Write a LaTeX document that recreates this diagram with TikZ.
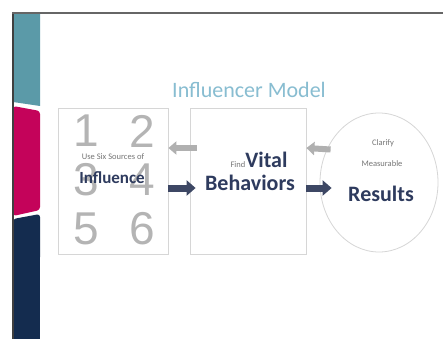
\documentclass[tikz,border=0pt]{standalone}
\usepackage{fontspec}
\setmainfont{Carlito}
\newfontfamily\digitfont{Liberation Sans}
\usetikzlibrary{arrows.meta,shapes.geometric}
\definecolor{barteal}{HTML}{5B9AA8}
\definecolor{barred}{HTML}{C4035A}
\definecolor{barnavy}{HTML}{142C4F}
\definecolor{titleblue}{HTML}{88BDD1}
\definecolor{arrownavy}{HTML}{3D4764}
\definecolor{arrowgray}{HTML}{B0B0B0}
\definecolor{framegray}{HTML}{D6D6D6}
\definecolor{digitgray}{HTML}{B4B4B4}
\definecolor{textnavy}{HTML}{2E3B5E}
\definecolor{smallgray}{HTML}{767676}
\begin{document}
\begin{tikzpicture}[x=1pt, y=-1pt,
  panel/.style={draw=framegray, line width=0.8pt, rectangle, minimum width=#1, minimum height=146pt, inner sep=0pt},
  digit/.style={text=digitgray, font=\digitfont\fontsize{46}{46}\selectfont, inner sep=0pt},
  tiny/.style={text=smallgray, font=\fontsize{8.5}{8.5}\selectfont, inner sep=0pt},
  big/.style={text=textnavy, font=\bfseries\fontsize{22}{22}\selectfont, inner sep=0pt},
  fwdarrow/.style={draw=arrownavy, line width=7pt, -{Triangle[length=9pt,width=15pt]}},
  backarrow/.style={draw=arrowgray, line width=6pt, -{Triangle[length=8pt,width=13pt]}}]
\useasboundingbox (0,0) rectangle (443,339);
\fill[white] (0,0) rectangle (443,339);

% side bar
\fill[barteal] (13,13) -- (40,13) -- (40,106) -- (13,102) -- cycle;
\fill[barred, rounded corners=3pt] (13,106) -- (40,111) -- (40,210) -- (13,216) -- cycle;
\fill[barnavy, rounded corners=3pt] (13,219) -- (40,214) -- (40,260) -- (13,260) -- cycle;
\fill[barnavy] (13,250) rectangle (40,339);
\draw[line width=2pt, black!75] (13,12) -- (13,339);
\draw[line width=2.2pt, black!60] (12,13) -- (443,13);

% title
\node[text=titleblue, font=\fontsize{22}{22}\selectfont] (title) at (249,90) {Influencer Model};

% boxes
\node[panel=110pt] (six) at (113,181) {};
\node[panel=116pt] (vital) at (248,181) {};
\node[draw=framegray, ellipse, line width=0.8pt, minimum width=118pt, minimum height=139pt] (results) at (379,182.5) {};

% six sources
\node[digit] (d1) at (86,131) {1};
\node[digit] (d2) at (142,131) {2};
\node[digit] (d3) at (86,180) {3};
\node[digit] (d4) at (142,180) {4};
\node[digit] (d5) at (86,229) {5};
\node[digit] (d6) at (142,229) {6};
\node[tiny] (use) at (113,157) {Use Six Sources of};
\node[text=textnavy, font=\bfseries\fontsize{17}{17}\selectfont, inner sep=0pt] (influence) at (112,178) {Influence};

% vital behaviors
\node[big, anchor=base] (findvital) at (259,167) {{\fontsize{8.5}{8.5}\selectfont\color{smallgray}\mdseries Find}Vital};
\node[big] (behaviors) at (250,183) {Behaviors};

% results
\node[tiny] (clarify) at (383,143) {Clarify};
\node[tiny] (measurable) at (382,164) {Measurable};
\node[big] (res) at (381,194) {Results};

% arrows
\draw[backarrow] ([xshift=7pt,yshift=33pt]vital.west) -- ([yshift=33pt]six.east);
\draw[fwdarrow] ([yshift=-7pt]six.east) -- ([xshift=6pt,yshift=-7pt]vital.west);
\draw[backarrow] ([xshift=11pt,yshift=33pt]results.west) -- ([yshift=33pt]vital.east);
\draw[fwdarrow] ([yshift=-7pt]vital.east) -- ([xshift=12pt,yshift=-5.5pt]results.west);
\end{tikzpicture}
\end{document}
